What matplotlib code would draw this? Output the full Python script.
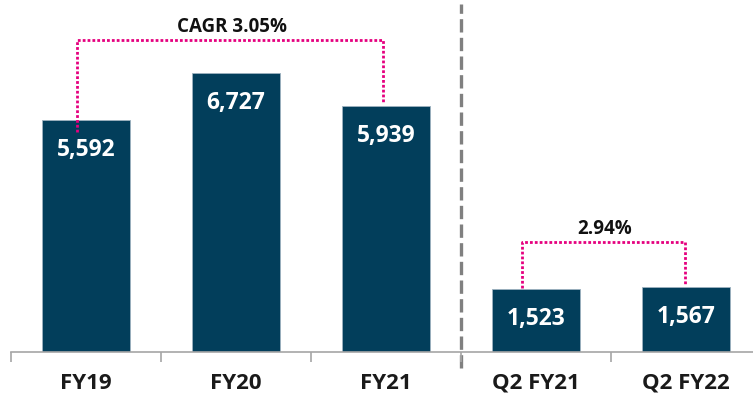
import matplotlib
matplotlib.use("Agg")
import matplotlib.pyplot as plt

categories = ["FY19", "FY20", "FY21", "Q2 FY21", "Q2 FY22"]
values = [5592, 6727, 5939, 1523, 1567]
value_labels = ["5,592", "6,727", "5,939", "1,523", "1,567"]
cagr_label = "CAGR 3.05%"
growth_label = "2.94%"

plt.rcParams['font.family'] = ['Open Sans', 'DejaVu Sans']

W, H = 753, 401
fig = plt.figure(figsize=(W / 100, H / 100), dpi=100)
base_px = 352
ax = fig.add_axes([11 / W, (H - base_px) / H, (W - 11) / W, base_px / H])
ax.set_xlim(-0.5, -0.5 + (W - 11) / 150)
ax.set_ylim(0, 8486)

bar_color = "#023E5B"
xs = list(range(len(categories)))
ax.bar(xs, values, width=0.59, color=bar_color, edgecolor="#9DB2C0", linewidth=0.6, zorder=2)

for x, v, lab in zip(xs, values, value_labels):
    ax.text(x, v - 720, lab, ha="center", va="center", color="white",
            fontsize=16.5, fontweight="bold", zorder=3)

# axis styling
for s in ["top", "right", "left"]:
    ax.spines[s].set_visible(False)
ax.spines["bottom"].set_color("#A6A6A6")
ax.spines["bottom"].set_linewidth(1.2)
ax.set_yticks([])
ax.set_xticks([i - 0.5 for i in range(len(categories))])
ax.set_xticklabels([])
ax.tick_params(axis="x", length=7, width=1.2, color="#A6A6A6", direction="out")
for x, c in zip(xs, categories):
    ax.text(x, -750, c, ha="center", va="center", fontsize=16, fontweight="bold",
            color="#1a1a1a", clip_on=False)

# divider
ax.plot([2.5, 2.5], [-390, 8400], color="#808080", lw=2.4, ls=(0, (4, 1.6)),
        clip_on=False, zorder=1)

pink = "#E5007E"
dot = (0, (1, 0.75))

def bracket(x1, x2, y1, y2, ytop, label, fs):
    ax.plot([x1, x1, x2, x2], [y1, ytop, ytop, y2], color=pink, lw=2.0, ls=dot,
            zorder=4, solid_capstyle="butt", dash_capstyle="butt")
    ax.text((x1 + x2) / 2 + 0.01, ytop + 310, label, ha="center", va="center",
            fontsize=fs, fontweight="bold", color="#111111")

bracket(xs[0] - 0.06, xs[2] - 0.02, values[0] - 290, values[2] + 65, 7522, cagr_label, 13.5)
bracket(xs[3] - 0.093, xs[4] - 0.005, values[3] + 20, values[4] + 45, 2652, growth_label, 13.5)

fig.savefig("out.png", dpi=100)
